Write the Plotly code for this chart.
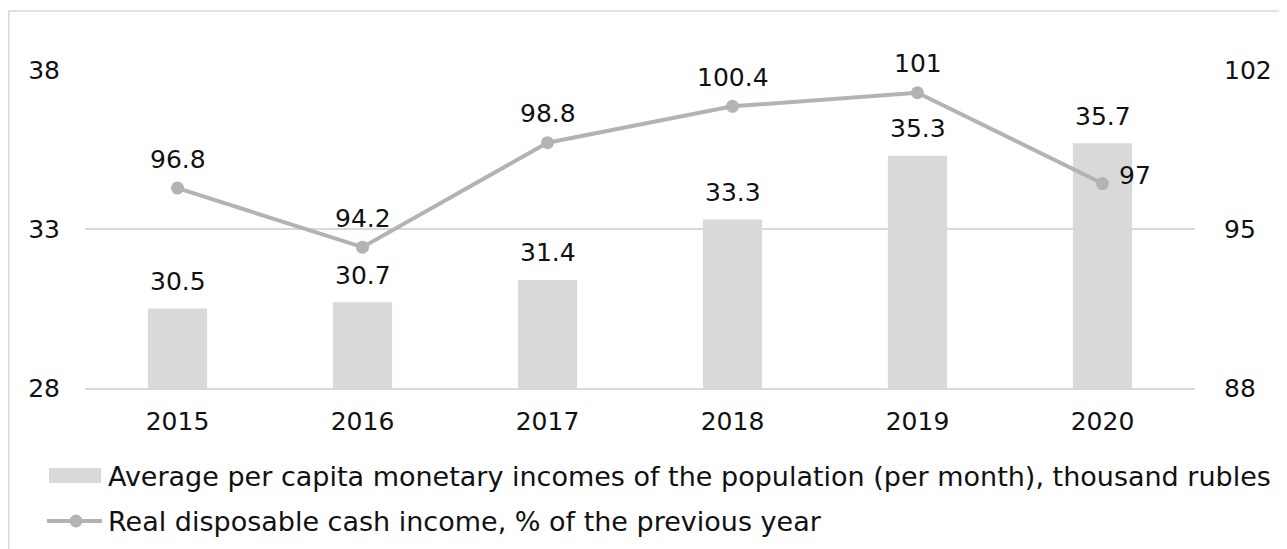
import plotly.graph_objects as go

years = ["2015", "2016", "2017", "2018", "2019", "2020"]
avg_income = [30.5, 30.7, 31.4, 33.3, 35.3, 35.7]
real_income = [96.8, 94.2, 98.8, 100.4, 101, 97]
bar_name = "Average per capita monetary incomes of the population (per month), thousand rubles"
line_name = "Real disposable cash income, % of the previous year"
left_ticks = [28, 33, 38]
right_ticks = [88, 95, 102]

# page body has an 8px margin, so figure is slightly smaller than the window
OFF = 8
W, H = 1279, 541
L, R, T, B = 77, 92, 62, 161
pw, ph = W - L - R, H - T - B

def px(x):  # x in window pixels -> paper
    return (x - OFF - L) / pw

def py(y):  # y in window pixels -> paper
    return (H - B - (y - OFF)) / ph

FONT = "DejaVu Sans"
FS = 25
LFS = 27
TXT = "#111111"
BAR_C = "#d9d9d9"
LINE_C = "#b3b3b3"
GRID_C = "#d9d9d9"

fig = go.Figure()
fig.add_trace(go.Bar(x=years, y=avg_income, marker=dict(color=BAR_C, line=dict(width=0)),
                     width=0.32, name=bar_name, showlegend=False, yaxis="y"))
fig.add_trace(go.Scatter(x=years, y=real_income, mode="lines+markers", name=line_name,
                         line=dict(color=LINE_C, width=4), marker=dict(color=LINE_C, size=13),
                         showlegend=False, yaxis="y2"))

annotations = []
for i, v in enumerate(avg_income):
    annotations.append(dict(x=i, y=v, xref="x", yref="y", text=f"{v:g}", showarrow=False,
                            yshift=27, font=dict(family=FONT, size=FS, color=TXT)))
for i, v in enumerate(real_income):
    if i == len(years) - 1:
        annotations.append(dict(x=i, y=v, xref="x", yref="y2", text=f"{v:g}", showarrow=False,
                                xanchor="left", xshift=14, yshift=8,
                                font=dict(family=FONT, size=FS, color=TXT)))
    else:
        annotations.append(dict(x=i, y=v, xref="x", yref="y2", text=f"{v:g}", showarrow=False,
                                yshift=29, font=dict(family=FONT, size=FS, color=TXT)))

annotations.append(dict(x=px(106), y=py(476), xref="paper", yref="paper", text=bar_name,
                        showarrow=False, xanchor="left", yanchor="middle",
                        font=dict(family=FONT, size=LFS, color=TXT)))
annotations.append(dict(x=px(106), y=py(521), xref="paper", yref="paper", text=line_name,
                        showarrow=False, xanchor="left", yanchor="middle",
                        font=dict(family=FONT, size=LFS, color=TXT)))

shapes = [
    dict(type="rect", xref="paper", yref="paper", x0=px(8.75), x1=px(1320), y0=py(580), y1=py(11),
         line=dict(color="#d9d9d9", width=1.5), fillcolor="rgba(0,0,0,0)", layer="below"),
    dict(type="rect", xref="paper", yref="paper", x0=px(49), x1=px(101), y0=py(483), y1=py(468),
         line=dict(width=0), fillcolor=BAR_C),
    dict(type="line", xref="paper", yref="paper", x0=px(47), x1=px(102), y0=py(521), y1=py(521),
         line=dict(color=LINE_C, width=4)),
    dict(type="circle", xref="paper", yref="paper", x0=px(69.5), x1=px(82.5), y0=py(527.5), y1=py(514.5),
         line=dict(width=0), fillcolor=LINE_C),
]

fig.update_layout(
    width=W, height=H,
    margin=dict(l=L, r=R, t=T, b=B, autoexpand=False),
    paper_bgcolor="white", plot_bgcolor="white",
    font=dict(family=FONT, size=FS, color=TXT),
    xaxis=dict(type="category", range=[-0.5, len(years) - 0.5], showgrid=False, showline=True,
               linecolor=GRID_C, linewidth=2, ticks="",
               tickfont=dict(family=FONT, size=FS, color=TXT), ticklabelstandoff=10,
               fixedrange=True),
    yaxis=dict(range=[28, 38], tickvals=left_ticks, showgrid=True, gridcolor=GRID_C, gridwidth=1.5,
               zeroline=False, showline=False, ticks="", ticklabelstandoff=24,
               tickfont=dict(family=FONT, size=FS, color=TXT)),
    yaxis2=dict(range=[88, 102], tickvals=right_ticks, overlaying="y", side="right", showgrid=False,
                zeroline=False, showline=False, ticks="", ticklabelstandoff=28,
                tickfont=dict(family=FONT, size=FS, color=TXT)),
    annotations=annotations,
    shapes=shapes,
    showlegend=False,
)

fig.write_html("out.html")
